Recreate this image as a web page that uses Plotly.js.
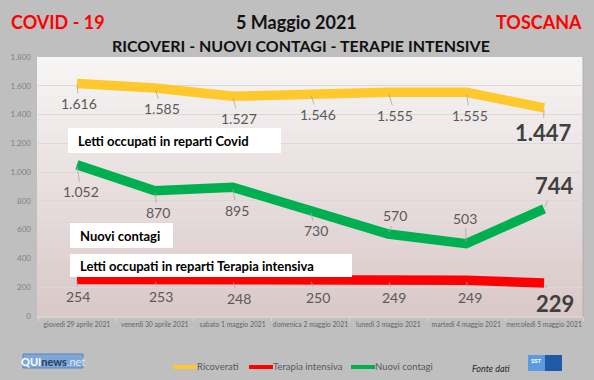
<!DOCTYPE html>
<html>
<head>
<meta charset="utf-8">
<script src="https://cdn.plot.ly/plotly-3.0.1.min.js"></script>
<style>
  html, body { margin: 0; padding: 0; background: #bfbfbf; }
  #chart { width: 594px; height: 380px; }
</style>
</head>
<body>
<div id="chart"></div>
<script>
// ---- DATA ----
const categories = [
  "giovedì 29 aprile 2021",
  "venerdì 30 aprile 2021",
  "sabato 1 maggio 2021",
  "domenica 2 maggio 2021",
  "lunedì 3 maggio 2021",
  "martedì 4 maggio 2021",
  "mercoledì 5 maggio 2021"
];
const ricoverati = [1616, 1585, 1527, 1546, 1555, 1555, 1447];
const terapiaIntensiva = [254, 253, 248, 250, 249, 249, 229];
const nuoviContagi = [1052, 870, 895, 730, 570, 503, 744];
const seriesNames = ["Ricoverati", "Terapia intensiva", "Nuovi contagi"];
const yTicks = [0, 200, 400, 600, 800, 1000, 1200, 1400, 1600, 1800];

// ---- LAYOUT HELPERS (pixel geometry) ----
const W = 594, H = 380;
const mL = 38, mR = 11, mT = 57, mB = 64;
const plotW = W - mL - mR, plotH = H - mT - mB;
const px2x = px => (px - mL) / plotW;
const py2y = py => (H - mB - py) / plotH;

const FONT = "Lato, 'Open Sans', sans-serif";
const colors = ["#ffc82c", "#ff0000", "#00b050"];
const seriesData = [ricoverati, terapiaIntensiva, nuoviContagi];

// label offsets (pixels) for each point label per series
const labelOffsets = [
  [[2, 20], [7, 21], [6, 22], [7, 21], [7, 23], [4, 23], [-1, 25]],
  [[1, 17], [6, 17], [6, 18], [7, 17], [6, 17], [4, 17], [11, 20]],
  [[4, 27], [3, 22], [4, 23], [5, 20], [7, -18], [-1, -25], [10, -23]]
];

const fmt = v => String(v).replace(/\B(?=(\d{3})+(?!\d))/g, ".");

const traces = seriesData.map((vals, i) => ({
  type: "scatter",
  mode: "lines",
  x: categories,
  y: vals,
  name: seriesNames[i],
  line: { color: colors[i], width: 9.5 },
  hoverinfo: "skip",
  showlegend: false
}));

const annotations = [];
seriesData.forEach((vals, s) => {
  vals.forEach((v, k) => {
    const last = k === vals.length - 1;
    annotations.push({
      x: categories[k], y: v, xref: "x", yref: "y",
      text: last ? "<b>" + fmt(v) + "</b>" : fmt(v),
      showarrow: true, arrowhead: 0, arrowwidth: 0.8, arrowcolor: "#a6a6a6",
      standoff: 2,
      ax: labelOffsets[s][k][0], ay: labelOffsets[s][k][1],
      font: { family: FONT, size: last ? 22 : 14, color: last ? "#404040" : "#595959" }
    });
  });
});

// Title texts
const titles = [
  { text: "<b>COVID - 19</b>", px: 58, py: 22, size: 18, color: "#ff0000" },
  { text: "<b>5 Maggio 2021</b>", px: 296, py: 22, size: 18, color: "#111111" },
  { text: "<b>RICOVERI - NUOVI CONTAGI - TERAPIE INTENSIVE</b>", px: 301, py: 45, size: 16, color: "#111111" },
  { text: "<b>TOSCANA</b>", px: 539, py: 22, size: 18, color: "#ff0000" }
];
titles.forEach(t => annotations.push({
  xref: "paper", yref: "paper", x: px2x(t.px), y: py2y(t.py),
  xanchor: "center", yanchor: "middle", showarrow: false,
  text: t.text, font: { family: FONT, size: t.size, color: t.color }
}));

// white text boxes
const boxes = [
  { text: "Letti occupati in reparti Covid", x0: 68, x1: 281, y0: 128, y1: 153 },
  { text: "Nuovi contagi", x0: 70, x1: 173, y0: 223, y1: 248 },
  { text: "Letti occupati in reparti Terapia intensiva", x0: 70, x1: 352, y0: 254, y1: 277 }
];
const shapes = [];
// gradient plot background (bands)
const nb = 60;
const c1 = [247, 245, 245], c2 = [218, 200, 200];
for (let i = 0; i < nb; i++) {
  const t = i / (nb - 1);
  const c = c1.map((a, j) => Math.round(a + (c2[j] - a) * t));
  const top = 57 + (318 - 57) * i / nb, bot = 57 + (318 - 57) * (i + 1) / nb;
  shapes.push({
    type: "rect", xref: "paper", yref: "paper", layer: "below",
    x0: px2x(37), x1: px2x(583), y0: py2y(bot + 0.5), y1: py2y(top),
    fillcolor: "rgb(" + c.join(",") + ")", line: { width: 0 }
  });
}
// faint right edge of plot area
shapes.push({
  type: "line", xref: "paper", yref: "paper", layer: "below",
  x0: px2x(583), x1: px2x(583), y0: py2y(318), y1: py2y(57),
  line: { color: "#b0b0b0", width: 1 }
});
boxes.forEach(b => {
  shapes.push({
    type: "rect", xref: "paper", yref: "paper", layer: "above",
    x0: px2x(b.x0), x1: px2x(b.x1), y0: py2y(b.y1), y1: py2y(b.y0),
    fillcolor: "#ffffff", line: { width: 0 }
  });
  annotations.push({
    xref: "paper", yref: "paper", x: px2x(b.x0 + 8), y: py2y((b.y0 + b.y1) / 2),
    xanchor: "left", yanchor: "middle", showarrow: false,
    text: "<b>" + b.text + "</b>", font: { family: FONT, size: 13, color: "#000000" }
  });
});

// Custom legend (swatch + text)
const legendX = [173, 249, 351];
seriesNames.forEach((n, i) => {
  shapes.push({
    type: "line", xref: "paper", yref: "paper", layer: "above",
    x0: px2x(legendX[i]), x1: px2x(legendX[i] + 24), y0: py2y(367), y1: py2y(367),
    line: { color: colors[i], width: 4 }
  });
  annotations.push({
    xref: "paper", yref: "paper", x: px2x(legendX[i] + 24), y: py2y(366),
    xanchor: "left", yanchor: "middle", showarrow: false, xshift: -2,
    text: n, font: { family: FONT, size: 9.5, color: "#595959" }
  });
});

// Logos (QUInews.net, SST) and "Fonte dati"
shapes.push({
  type: "rect", xref: "paper", yref: "paper", layer: "above",
  x0: px2x(23), x1: px2x(83), y0: py2y(368), y1: py2y(354),
  fillcolor: "#7ea6d8", line: { color: "#5b84b8", width: 1 }
});
annotations.push({
  xref: "paper", yref: "paper", x: px2x(53), y: py2y(361), xanchor: "center", yanchor: "middle",
  showarrow: false, text: "<b>QUI</b><b><span style='color:#2b3f5c'>news</span></b><span style='color:#dfe9f5'>.net</span>",
  font: { family: FONT, size: 11, color: "#ffffff" }
});
shapes.push({
  type: "rect", xref: "paper", yref: "paper", layer: "above",
  x0: px2x(528), x1: px2x(545), y0: py2y(371), y1: py2y(355),
  fillcolor: "#5d9be0", line: { width: 0 }
});
shapes.push({
  type: "rect", xref: "paper", yref: "paper", layer: "above",
  x0: px2x(545), x1: px2x(562), y0: py2y(371), y1: py2y(355),
  fillcolor: "#1e5aa8", line: { width: 0 }
});
annotations.push({
  xref: "paper", yref: "paper", x: px2x(536.5), y: py2y(360), xanchor: "center", yanchor: "middle",
  showarrow: false, text: "<b>SST</b>", font: { family: FONT, size: 6, color: "#ffffff" }
});
annotations.push({
  xref: "paper", yref: "paper", x: px2x(491), y: py2y(368), xanchor: "center", yanchor: "middle",
  showarrow: false, text: "<i>Fonte dati</i>", font: { family: FONT, size: 9, color: "#262626" }
});

const layout = {
  width: W, height: H,
  margin: { l: mL, r: mR, t: mT, b: mB, pad: 0 },
  paper_bgcolor: "#bfbfbf",
  plot_bgcolor: "rgba(0,0,0,0)",
  separators: ",.",
  font: { family: FONT },
  showlegend: false,
  xaxis: {
    type: "category", range: [-0.5, 6.5], fixedrange: true,
    showgrid: false, zeroline: false,
    showline: true, linecolor: "#d9d9d9", linewidth: 1,
    ticks: "outside", tickson: "boundaries", ticklen: 4, tickcolor: "#d9d9d9",
    tickangle: 0, ticklabelstandoff: 2,
    tickfont: { family: FONT, size: 6.8, color: "#666666" }
  },
  yaxis: {
    range: [0, 1800], tickvals: yTicks, tickformat: ",d", fixedrange: true,
    showgrid: true, gridcolor: "#d9d9d9", gridwidth: 1, zeroline: false,
    ticks: "", ticklabelstandoff: 6,
    tickfont: { family: FONT, size: 8, color: "#7f7f7f" }
  },
  shapes: shapes,
  annotations: annotations
};

Plotly.newPlot("chart", traces, layout, { staticPlot: true, displayModeBar: false });
</script>
</body>
</html>
